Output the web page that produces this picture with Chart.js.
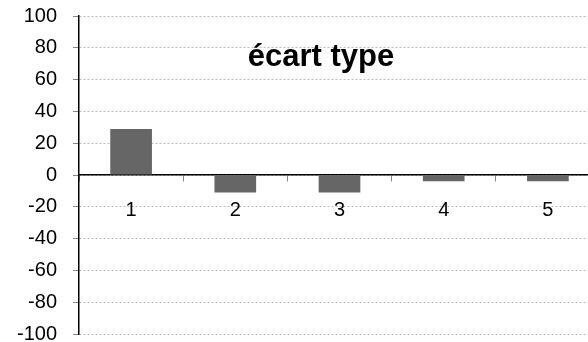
<!DOCTYPE html>
<html>
<head>
<meta charset="utf-8">
<script src="https://cdn.jsdelivr.net/npm/chart.js@4"></script>
<style>
  html, body { margin: 0; padding: 0; background: #fff; }
  #wrap { width: 588px; height: 342px; overflow: hidden; position: relative; }
  #box { width: 600px; height: 374px; margin-top: -12px; }
</style>
</head>
<body>
<div id="wrap"><div id="box"><canvas id="chart"></canvas></div></div>
<script>
// data
const categories = ['1', '2', '3', '4', '5'];
const ecartType = [29, -11, -11, -4, -4];
const yTicks = [-100, -80, -60, -40, -20, 0, 20, 40, 60, 80, 100];
const chartTitle = 'écart type';

const FONT = 'Arial, "Liberation Sans", sans-serif';

// title sits inside the plot area, drawn by hand
const innerTitle = {
    id: 'innerTitle',
    afterDraw(chart) {
        const ctx = chart.ctx;
        ctx.save();
        ctx.font = 'bold 31px ' + FONT;
        ctx.fillStyle = '#000';
        ctx.textAlign = 'center';
        ctx.textBaseline = 'alphabetic';
        ctx.fillText(chartTitle, 321, 78); // +12 for the canvas shift
        ctx.restore();
    }
};

new Chart(document.getElementById('chart'), {
    type: 'bar',
    data: {
        labels: categories,
        datasets: [{
            data: ecartType,
            backgroundColor: '#666666',
            borderWidth: 0,
            barPercentage: 0.4,
            categoryPercentage: 1.0
        }]
    },
    options: {
        responsive: true,
        maintainAspectRatio: false,
        animation: false,
        layout: { padding: { top: 4, bottom: 13, left: 0, right: 0 } },
        plugins: {
            legend: { display: false },
            tooltip: { enabled: false }
        },
        scales: {
            x: {
                position: { y: 0 },
                offset: true,
                grid: {
                    offset: true,
                    drawOnChartArea: false,
                    drawTicks: true,
                    tickLength: 6,
                    tickColor: '#888888'
                },
                border: { color: '#000', width: 1.5 },
                ticks: {
                    color: '#000',
                    padding: 17,
                    font: { family: FONT, size: 20 }
                }
            },
            y: {
                min: -100,
                max: 100,
                afterBuildTicks: (scale) => { scale.ticks = yTicks.map(v => ({ value: v })); },
                afterFit: (scale) => { scale.width = 79; },
                grid: {
                    color: '#bdbdbd',
                    tickLength: 6,
                    tickColor: '#888888'
                },
                border: { color: '#000', width: 1.5, dash: [2, 2] },
                ticks: {
                    color: '#000',
                    padding: 16,
                    font: { family: FONT, size: 20 }
                }
            }
        }
    },
    plugins: [innerTitle]
});
</script>
</body>
</html>
